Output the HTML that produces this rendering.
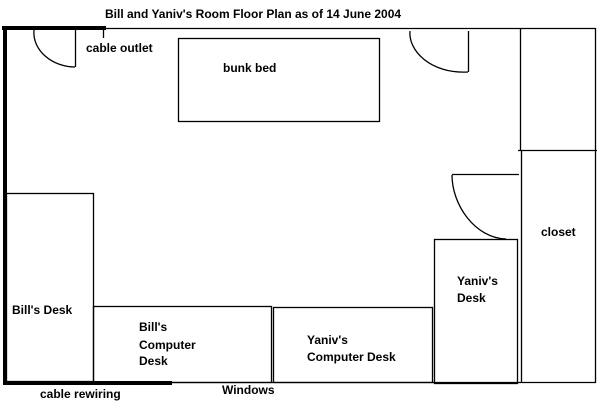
<!DOCTYPE html>
<html><head><meta charset="utf-8"><style>
html,body{margin:0;padding:0;background:#fff;width:610px;height:405px;overflow:hidden}
svg{display:block}
text{font-family:"Liberation Sans",Arial,sans-serif;font-weight:bold;font-size:12px;fill:#000}
</style></head><body>
<svg width="610" height="405" viewBox="0 0 610 405" xmlns="http://www.w3.org/2000/svg">
<g fill="none" stroke="#000" stroke-width="1.3">
<!-- room outline -->
<line x1="105" y1="28.5" x2="596" y2="28.5"/>
<line x1="595.5" y1="28" x2="595.5" y2="383"/>
<line x1="172" y1="382.5" x2="596" y2="382.5"/>
<!-- bunk bed -->
<rect x="178.5" y="38.5" width="201" height="83"/>
<!-- closet -->
<line x1="520.5" y1="28" x2="520.5" y2="150"/>
<line x1="518" y1="150.5" x2="597" y2="150.5"/>
<line x1="521.5" y1="150" x2="521.5" y2="383"/>
<!-- Yaniv's desk -->
<rect x="434.5" y="239.5" width="83" height="144"/>
<!-- Yaniv's computer desk -->
<rect x="273.5" y="307.5" width="159" height="75"/>
<!-- Bill's computer desk -->
<rect x="93.5" y="306.5" width="178" height="76"/>
<!-- Bill's desk -->
<rect x="6.5" y="193.5" width="87" height="188"/>
<!-- doors -->
<line x1="75.5" y1="28" x2="75.5" y2="67"/>
<path d="M34 30 C 32 50, 52 67, 75 67"/>
<line x1="468.5" y1="31" x2="468.5" y2="72"/>
<path d="M410 31 C 408 50, 430 74, 468 72"/>
<line x1="452" y1="174.5" x2="519" y2="174.5"/>
<path d="M452 175 C 452 205, 475 238, 506 239"/>
<!-- cable outlet tick -->
<line x1="103.5" y1="30" x2="103.5" y2="38"/>
</g>
<!-- thick walls -->
<rect x="2" y="26" width="104" height="4" fill="#000"/>
<rect x="3" y="26" width="4" height="359" fill="#000"/>
<rect x="3" y="381" width="169" height="4" fill="#000"/>
<text x="105" y="18">Bill and Yaniv's Room Floor Plan as of 14 June 2004</text>
<text x="86" y="52">cable outlet</text>
<text x="223" y="72">bunk bed</text>
<text x="541" y="236">closet</text>
<text x="457" y="285">Yaniv's</text>
<text x="457" y="302">Desk</text>
<text x="12" y="314">Bill's Desk</text>
<text x="139" y="331">Bill's</text>
<text x="139" y="349">Computer</text>
<text x="139" y="365">Desk</text>
<text x="307" y="344">Yaniv's</text>
<text x="307" y="361">Computer Desk</text>
<text x="222" y="394">Windows</text>
<text x="40" y="398">cable rewiring</text>
</svg>
</body></html>
